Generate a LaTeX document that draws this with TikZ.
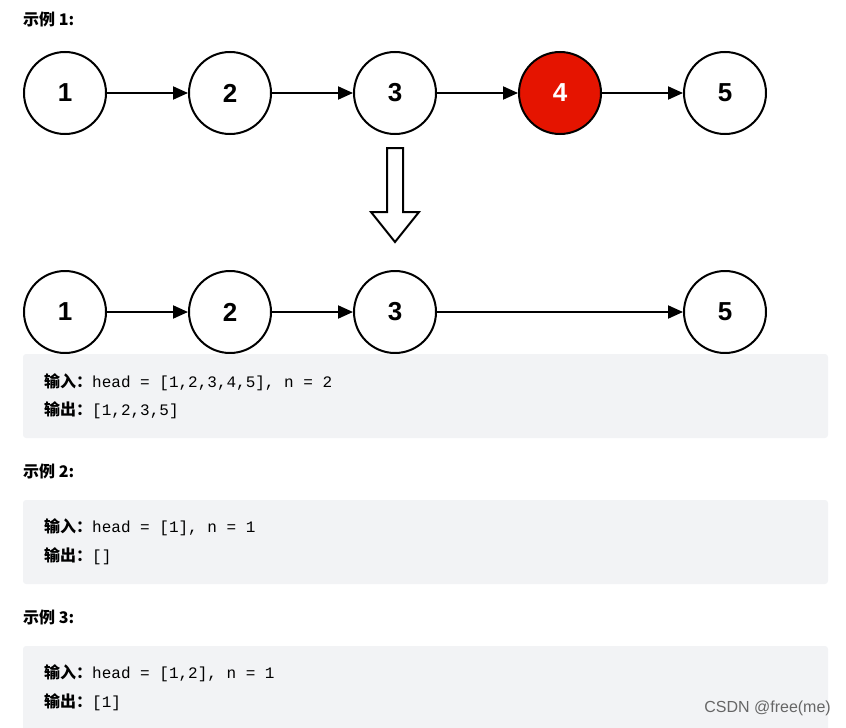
\documentclass[tikz,border=0pt]{standalone}
\usepackage{fontspec}
\setmainfont{Liberation Sans}
\newfontfamily\cjk{Noto Sans CJK SC}
\newfontfamily\codefont{Liberation Mono}
\usetikzlibrary{arrows.meta, positioning}
\definecolor{nodered}{HTML}{E51400}
\definecolor{boxgray}{HTML}{F2F3F5}
\tikzstyle{listnode} = [
    circle,
    minimum size=82pt,
    draw=black,
    line width=2pt,
    fill=white,
    font=\fontsize{26}{30}\selectfont\bfseries
]
\tikzstyle{arrow} = [line width=2pt,-{Triangle[length=15pt,width=13pt]}]
\tikzstyle{codebox} = [fill=boxgray, rounded corners=3pt]
\tikzstyle{code} = [anchor=west, inner sep=0pt, font=\fontsize{16}{19}\selectfont]
\tikzstyle{title} = [anchor=west, inner sep=0pt, font=\cjk\fontsize{16}{19}\selectfont\bfseries]

\begin{document}
\begin{tikzpicture}[x=1pt, y=-1pt]
\useasboundingbox (0,0) rectangle (846,728);

\node (t1) [title] at (23,19) {示例 1:};

% first list
\foreach \n/\x in {1/65, 2/230, 3/395, 5/725}
  \node (a\n) [listnode] at (\x,93) {\n};
\node (a4) [listnode, fill=nodered, text=white] at (560,93) {4};
\draw [arrow] (a1) -- (a2);
\draw [arrow] (a2) -- (a3);
\draw [arrow] (a3) -- (a4);
\draw [arrow] (a4) -- (a5);

% hollow down arrow
\draw [line width=2pt, fill=white]
  (387,148) -- (403,148) -- (403,212) -- (419,212) -- (395,242)
  -- (371,212) -- (387,212) -- cycle;

% second list
\foreach \n/\x in {1/65, 2/230, 3/395, 5/725}
  \node (b\n) [listnode] at (\x,312) {\n};
\draw [arrow] (b1) -- (b2);
\draw [arrow] (b2) -- (b3);
\draw [arrow] (b3) -- (b5);

% examples
\fill [codebox] (23,354) rectangle (828,438);
\node (in1) [code] at (44,382) {{\cjk\bfseries 输入：}\codefont head = [1,2,3,4,5], n = 2};
\node (out1) [code] at (44,410) {{\cjk\bfseries 输出：}\codefont [1,2,3,5]};

\node (t2) [title] at (23,471) {示例 2:};
\fill [codebox] (23,500) rectangle (828,584);
\node (in2) [code] at (44,527) {{\cjk\bfseries 输入：}\codefont head = [1], n = 1};
\node (out2) [code] at (44,556) {{\cjk\bfseries 输出：}\codefont []};

\node (t3) [title] at (23,617) {示例 3:};
\fill [codebox] (23,646) rectangle (828,740);
\node (in3) [code] at (44,673) {{\cjk\bfseries 输入：}\codefont head = [1,2], n = 1};
\node (out3) [code] at (44,702) {{\cjk\bfseries 输出：}\codefont [1]};

\node (wm) [anchor=east, inner sep=0pt, text=gray!80!black, font=\fontsize{16}{19}\selectfont] at (831,708) {CSDN @free(me)};
\end{tikzpicture}
\end{document}
